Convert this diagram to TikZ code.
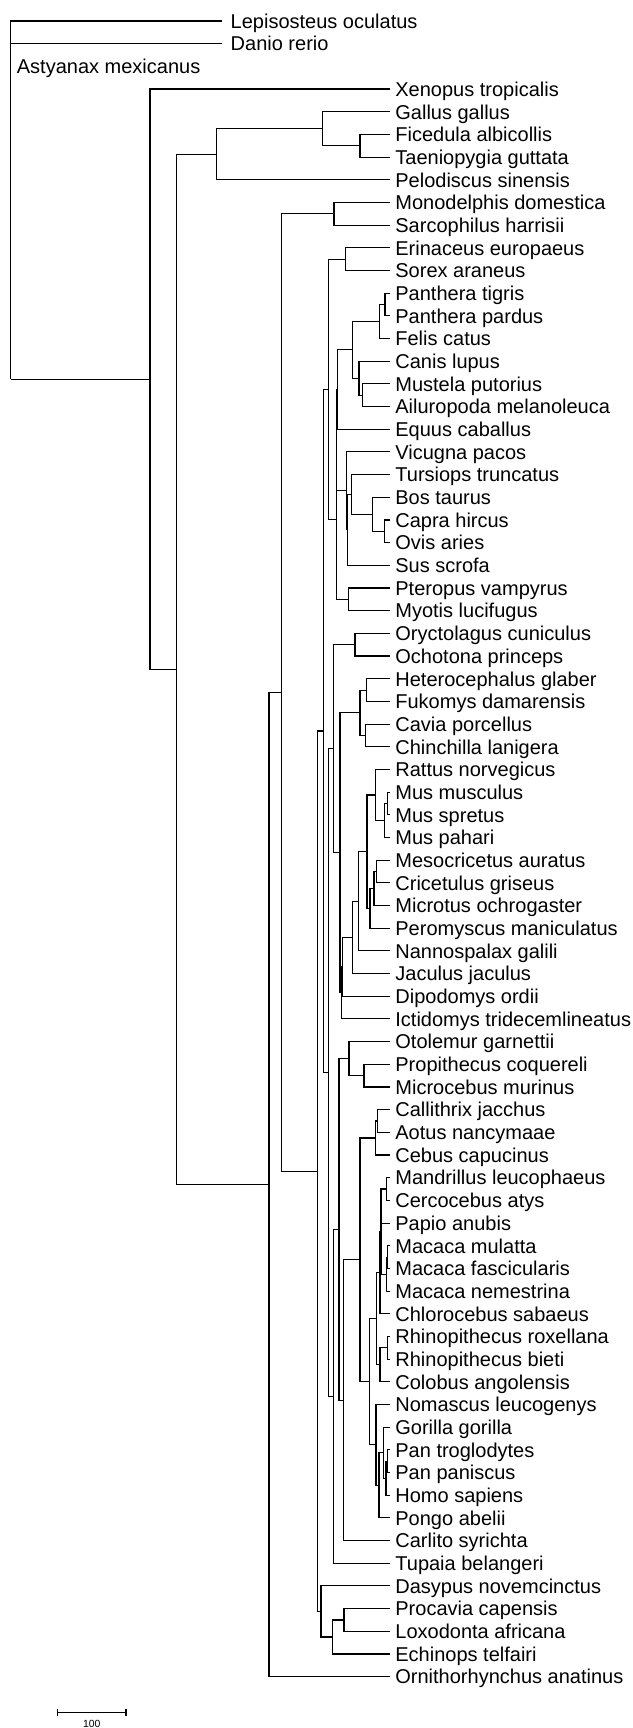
\documentclass[tikz,border=0pt]{standalone}
\usepackage{fontspec}
\setmainfont{Liberation Sans}
\usetikzlibrary{calc}
\newcommand\tipat[4]{%
  \coordinate (L#1) at (#2,{21+(#1-1)*22.68});
  \node[tiplabel] (T#1) at (#3,{21+(#1-1)*22.68+7.3}) {#4};}
\newcommand\tip[2]{\tipat{#1}{389.5}{395}{#2}}
\newcommand\clade[4]{%
  \path let \p1=($(#3)!0.5!(#4)$) in ({#2*0.5pt},\y1) coordinate (#1);}
\begin{document}
\begin{tikzpicture}[x=0.5pt,y=-0.5pt,
  branch/.style={draw=black, line width=0.55pt},
  tiplabel/.style={anchor=base west, inner sep=0pt, font=\fontsize{10}{11}\selectfont},
  barlabel/.style={anchor=base, inner sep=0pt, font=\fontsize{5.2}{6}\selectfont}]
\useasboundingbox (0,0) rectangle (632,1728);
% tips
\tipat{1}{221.7}{230.3}{Lepisosteus oculatus}
\tipat{2}{221.7}{230.3}{Danio rerio}
\node[tiplabel] (T3) at (16.5,{21+2*22.68+7.3}) {Astyanax mexicanus};
\tip{4}{Xenopus tropicalis}
\tip{5}{Gallus gallus}
\tip{6}{Ficedula albicollis}
\tip{7}{Taeniopygia guttata}
\tip{8}{Pelodiscus sinensis}
\tip{9}{Monodelphis domestica}
\tip{10}{Sarcophilus harrisii}
\tip{11}{Erinaceus europaeus}
\tip{12}{Sorex araneus}
\tip{13}{Panthera tigris}
\tip{14}{Panthera pardus}
\tip{15}{Felis catus}
\tip{16}{Canis lupus}
\tip{17}{Mustela putorius}
\tip{18}{Ailuropoda melanoleuca}
\tip{19}{Equus caballus}
\tip{20}{Vicugna pacos}
\tip{21}{Tursiops truncatus}
\tip{22}{Bos taurus}
\tip{23}{Capra hircus}
\tip{24}{Ovis aries}
\tip{25}{Sus scrofa}
\tip{26}{Pteropus vampyrus}
\tip{27}{Myotis lucifugus}
\tip{28}{Oryctolagus cuniculus}
\tip{29}{Ochotona princeps}
\tip{30}{Heterocephalus glaber}
\tip{31}{Fukomys damarensis}
\tip{32}{Cavia porcellus}
\tip{33}{Chinchilla lanigera}
\tip{34}{Rattus norvegicus}
\tip{35}{Mus musculus}
\tip{36}{Mus spretus}
\tip{37}{Mus pahari}
\tip{38}{Mesocricetus auratus}
\tip{39}{Cricetulus griseus}
\tip{40}{Microtus ochrogaster}
\tip{41}{Peromyscus maniculatus}
\tip{42}{Nannospalax galili}
\tip{43}{Jaculus jaculus}
\tip{44}{Dipodomys ordii}
\tip{45}{Ictidomys tridecemlineatus}
\tip{46}{Otolemur garnettii}
\tip{47}{Propithecus coquereli}
\tip{48}{Microcebus murinus}
\tip{49}{Callithrix jacchus}
\tip{50}{Aotus nancymaae}
\tip{51}{Cebus capucinus}
\tip{52}{Mandrillus leucophaeus}
\tip{53}{Cercocebus atys}
\tip{54}{Papio anubis}
\tip{55}{Macaca mulatta}
\tip{56}{Macaca fascicularis}
\tip{57}{Macaca nemestrina}
\tip{58}{Chlorocebus sabaeus}
\tip{59}{Rhinopithecus roxellana}
\tip{60}{Rhinopithecus bieti}
\tip{61}{Colobus angolensis}
\tip{62}{Nomascus leucogenys}
\tip{63}{Gorilla gorilla}
\tip{64}{Pan troglodytes}
\tip{65}{Pan paniscus}
\tip{66}{Homo sapiens}
\tip{67}{Pongo abelii}
\tip{68}{Carlito syrichta}
\tip{69}{Tupaia belangeri}
\tip{70}{Dasypus novemcinctus}
\tip{71}{Procavia capensis}
\tip{72}{Loxodonta africana}
\tip{73}{Echinops telfairi}
\tip{74}{Ornithorhynchus anatinus}
% internal nodes (bottom-up)
\clade{E}{360}{L6}{L7}
\clade{D}{322.7}{L5}{E}
\clade{C}{216.7}{D}{L8}
\clade{Mar}{334}{L9}{L10}
\clade{Eul}{345.7}{L11}{L12}
\clade{Pt}{385}{L13}{L14}
\clade{Fe}{379.3}{Pt}{L15}
\clade{Mst}{362.3}{L17}{L18}
\clade{Cf}{359}{L16}{Mst}
\clade{Car}{352.3}{Fe}{Cf}
\clade{CE}{337.3}{Car}{L19}
\clade{Cp}{384.3}{L23}{L24}
\clade{Ru}{372.7}{L22}{Cp}
\clade{Cr}{351.7}{L21}{Ru}
\clade{Ct2}{347.7}{Cr}{L25}
\clade{Ct}{346.5}{L20}{Ct2}
\clade{Fu}{336.8}{CE}{Ct}
\clade{Ch}{348.3}{L26}{L27}
\clade{Sc}{336.3}{Fu}{Ch}
\clade{La}{328.7}{Eul}{Sc}
\clade{Lg}{355}{L28}{L29}
\clade{Ha}{366.7}{L30}{L31}
\clade{Hb}{365.3}{L32}{L33}
\clade{Hy}{360}{Ha}{Hb}
\clade{Mms}{387.7}{L35}{L36}
\clade{Mg}{384.3}{Mms}{L37}
\clade{Mu}{375.7}{L34}{Mg}
\clade{Cc}{376.7}{L38}{L39}
\clade{Cb}{374}{Cc}{L40}
\clade{Ca1}{370}{Cb}{L41}
\clade{Rf}{367}{Mu}{Ca1}
\clade{Re}{358.3}{Rf}{L42}
\clade{Rd}{352.3}{Re}{L43}
\clade{Rc}{342.3}{Rd}{L44}
\clade{Rb}{341.2}{Rc}{L45}
\clade{Ro}{340}{Hy}{Rb}
\clade{Gl}{333.3}{Lg}{Ro}
\clade{Lm}{364}{L47}{L48}
\clade{St}{349}{L46}{Lm}
\clade{Pa1}{377.3}{L49}{L50}
\clade{Pl}{375.7}{Pa1}{L51}
\clade{MC}{386.7}{L52}{L53}
\clade{Ma1}{387.7}{L55}{L56}
\clade{Mac}{386.3}{Ma1}{L57}
\clade{Pp}{381}{MC}{Mac}
\clade{Cn}{380}{Pp}{L58}
\clade{Rh}{387.7}{L59}{L60}
\clade{Co}{380}{Rh}{L61}
\clade{Ce}{376.7}{Cn}{Co}
\clade{Pn}{387.7}{L64}{L65}
\clade{PH}{386}{Pn}{L66}
\clade{Hn}{383.3}{L63}{PH}
\clade{Hd}{379}{Hn}{L67}
\clade{Ho}{376}{L62}{Hd}
\clade{Ca}{369.3}{Ce}{Ho}
\clade{An}{360}{Pl}{Ca}
\clade{Hp}{343.3}{An}{L68}
\clade{Pm}{339}{St}{Hp}
\clade{Eh}{333.3}{Pm}{L69}
\clade{Ea}{328.3}{Gl}{Eh}
\clade{Bo}{323.8}{La}{Ea}
\clade{Pa}{344}{L71}{L72}
\clade{Af}{332.7}{Pa}{L73}
\clade{At}{321}{L70}{Af}
\clade{Eu}{317.3}{Bo}{At}
\clade{Th}{281.3}{Mar}{Eu}
\clade{M}{269}{Th}{L74}
\clade{B}{176.7}{C}{M}
\clade{A}{150}{L4}{B}
\path let \p1=(A) in ({10.7*0.5pt},\y1) coordinate (root);
% branches
\foreach \p/\c in {root/L1,root/L2,root/A,
  A/L4,A/B,B/C,B/M,C/D,C/L8,D/L5,D/E,E/L6,E/L7,
  M/Th,M/L74,Th/Mar,Th/Eu,Mar/L9,Mar/L10,
  Eu/Bo,Eu/At,At/L70,At/Af,Af/Pa,Af/L73,Pa/L71,Pa/L72,
  Bo/La,Bo/Ea,La/Eul,La/Sc,Eul/L11,Eul/L12,
  Sc/Fu,Sc/Ch,Ch/L26,Ch/L27,Fu/CE,Fu/Ct,CE/Car,CE/L19,
  Car/Fe,Car/Cf,Fe/Pt,Fe/L15,Pt/L13,Pt/L14,Cf/L16,Cf/Mst,Mst/L17,Mst/L18,
  Ct/L20,Ct/Ct2,Ct2/Cr,Ct2/L25,Cr/L21,Cr/Ru,Ru/L22,Ru/Cp,Cp/L23,Cp/L24,
  Ea/Gl,Ea/Eh,Gl/Lg,Gl/Ro,Lg/L28,Lg/L29,
  Ro/Hy,Ro/Rb,Hy/Ha,Hy/Hb,Ha/L30,Ha/L31,Hb/L32,Hb/L33,
  Rb/Rc,Rb/L45,Rc/Rd,Rc/L44,Rd/Re,Rd/L43,Re/Rf,Re/L42,Rf/Mu,Rf/Ca1,
  Mu/L34,Mu/Mg,Mg/Mms,Mg/L37,Mms/L35,Mms/L36,
  Ca1/Cb,Ca1/L41,Cb/Cc,Cb/L40,Cc/L38,Cc/L39,
  Eh/Pm,Eh/L69,Pm/St,Pm/Hp,St/L46,St/Lm,Lm/L47,Lm/L48,
  Hp/An,Hp/L68,An/Pl,An/Ca,Pl/Pa1,Pl/L51,Pa1/L49,Pa1/L50,
  Ca/Ce,Ca/Ho,Ce/Cn,Ce/Co,Cn/Pp,Cn/L58,Pp/MC,Pp/L54,Pp/Mac,
  MC/L52,MC/L53,Mac/Ma1,Mac/L57,Ma1/L55,Ma1/L56,
  Co/Rh,Co/L61,Rh/L59,Rh/L60,
  Ho/L62,Ho/Hd,Hd/Hn,Hd/L67,Hn/L63,Hn/PH,PH/Pn,PH/L66,Pn/L64,Pn/L65}
  \draw[branch] (\p) |- (\c);
% scale bar
\coordinate (sbL) at (57.7,1712.7);
\coordinate (sbR) at (126,1712.7);
\draw[branch] (sbL) -- (sbR);
\draw[branch] ($(sbL)+(0,-3.3)$) -- ($(sbL)+(0,3.3)$);
\draw[branch] ($(sbR)+(0,-3.3)$) -- ($(sbR)+(0,3.3)$);
\node[barlabel] (sbT) at (91.8,1727) {100};
\end{tikzpicture}
\end{document}
